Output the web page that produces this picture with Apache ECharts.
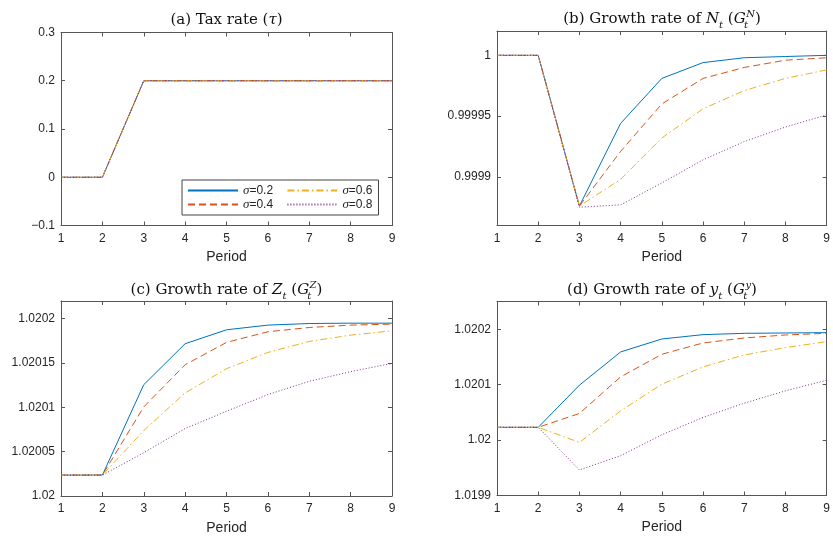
<!DOCTYPE html>
<html>
<head>
<meta charset="utf-8">
<script src="https://cdn.jsdelivr.net/npm/echarts@6/dist/echarts.min.js"></script>
<style>html,body{margin:0;padding:0;background:#fff;}#main{width:833px;height:539px;}</style>
</head>
<body>
<div id="main"></div>
<script>
// ---- data ----
const periods = [1, 2, 3, 4, 5, 6, 7, 8, 9];
const sigmaNames = ['σ=0.2', 'σ=0.4', 'σ=0.6', 'σ=0.8'];

// (a) Tax rate
const tax_s02 = [0, 0, 0.2, 0.2, 0.2, 0.2, 0.2, 0.2, 0.2];
const tax_s04 = [0, 0, 0.2, 0.2, 0.2, 0.2, 0.2, 0.2, 0.2];
const tax_s06 = [0, 0, 0.2, 0.2, 0.2, 0.2, 0.2, 0.2, 0.2];
const tax_s08 = [0, 0, 0.2, 0.2, 0.2, 0.2, 0.2, 0.2, 0.2];

// (b) Growth rate of N
const gN_s02 = [1, 1, 0.999876, 0.999944, 0.999981, 0.999994, 0.999998, 0.999999, 1.0];
const gN_s04 = [1, 1, 0.999876, 0.999921, 0.999960, 0.999981, 0.999990, 0.999996, 0.999998];
const gN_s06 = [1, 1, 0.999876, 0.999898, 0.999932, 0.999956, 0.999971, 0.999981, 0.999988];
const gN_s08 = [1, 1, 0.999875, 0.999877, 0.999895, 0.999914, 0.999929, 0.999941, 0.999951];

// (c) Growth rate of Z
const gZ_s02 = [1.0200236, 1.0200236, 1.0201256, 1.0201718, 1.0201875, 1.0201928, 1.0201946, 1.0201950, 1.0201950];
const gZ_s04 = [1.0200236, 1.0200236, 1.0201005, 1.0201481, 1.0201733, 1.0201853, 1.0201901, 1.0201928, 1.0201939];
const gZ_s06 = [1.0200236, 1.0200236, 1.0200739, 1.0201163, 1.0201436, 1.0201620, 1.0201744, 1.0201815, 1.0201864];
const gZ_s08 = [1.0200236, 1.0200236, 1.0200488, 1.0200761, 1.0200956, 1.0201144, 1.0201294, 1.0201403, 1.0201496];

// (d) Growth rate of y
const gY_s02 = [1.0200230, 1.0200230, 1.0200990, 1.0201590, 1.0201824, 1.0201902, 1.0201926, 1.0201932, 1.0201938];
const gY_s04 = [1.0200230, 1.0200230, 1.0200480, 1.0201140, 1.0201548, 1.0201752, 1.0201842, 1.0201896, 1.0201926];
const gY_s06 = [1.0200230, 1.0200230, 1.0199958, 1.0200528, 1.0201008, 1.0201320, 1.0201536, 1.0201668, 1.0201776];
const gY_s08 = [1.0200230, 1.0200230, 1.0199460, 1.0199718, 1.0200096, 1.0200408, 1.0200666, 1.0200888, 1.0201080];

// axis ranges & tick labels
const yRangeA = [-0.1, 0.3];  const yTicksA = [-0.1, 0, 0.1, 0.2, 0.3];
const yRangeB = [0.99986, 1.00002]; const yTicksB = [0.9999, 0.99995, 1];
const yRangeC = [1.02, 1.02022]; const yTicksC = [1.02, 1.02005, 1.0201, 1.02015, 1.0202];
const yRangeD = [1.0199, 1.02025]; const yTicksD = [1.0199, 1.02, 1.0201, 1.0202];
const xTicks = [1, 2, 3, 4, 5, 6, 7, 8, 9];

// ---- styling ----
const colors = ['#0072BD', '#D95319', '#EDB120', '#7E2F8E'];
const dashes = ['solid', [7, 4], [7, 3, 1.5, 3], [1, 2]];
const axisColor = '#555';
const labelColor = '#262626';
const sans = 'Liberation Sans, Arial, sans-serif';
const serif = 'DejaVu Serif, serif';

const grids = [
  { left: 61, top: 32.5, width: 331, height: 193 },
  { left: 497, top: 31, width: 330, height: 194.5 },
  { left: 61, top: 301, width: 331, height: 195 },
  { left: 497, top: 301.5, width: 330, height: 194 }
];
const yRanges = [yRangeA, yRangeB, yRangeC, yRangeD];
const yTicks = [yTicksA, yTicksB, yTicksC, yTicksD];
const panelData = [
  [tax_s02, tax_s04, tax_s06, tax_s08],
  [gN_s02, gN_s04, gN_s06, gN_s08],
  [gZ_s02, gZ_s04, gZ_s06, gZ_s08],
  [gY_s02, gY_s04, gY_s06, gY_s08]
];

function fmt(v) {
  const s = String(parseFloat(Number(v).toFixed(7)));
  return s.charAt(0) === '-' ? '\u2212' + s.slice(1) : s;
}

const xAxes = [], yAxes = [], series = [];
grids.forEach((g, i) => {
  const base = {
    type: 'value', gridIndex: i, min: 1, max: 9, interval: 1,
    axisLine: { show: true, onZero: false, lineStyle: { color: axisColor, width: 1 } },
    axisTick: { show: true, inside: true, length: 4, lineStyle: { color: axisColor } },
    splitLine: { show: false }
  };
  xAxes.push(Object.assign({}, base, {
    position: 'bottom',
    axisLabel: { show: true, color: labelColor, fontFamily: sans, fontSize: 12, margin: 7, formatter: fmt },
    name: 'Period', nameLocation: 'middle', nameGap: 25,
    nameTextStyle: { color: labelColor, fontFamily: sans, fontSize: 14 }
  }));
  xAxes.push(Object.assign({}, base, { position: 'top', axisLabel: { show: false } }));
  const ybase = {
    type: 'value', gridIndex: i, min: yRanges[i][0], max: yRanges[i][1],
    axisLine: { show: true, onZero: false, lineStyle: { color: axisColor, width: 1 } },
    axisTick: { show: true, inside: true, length: 4, customValues: yTicks[i], lineStyle: { color: axisColor } },
    splitLine: { show: false }
  };
  yAxes.push(Object.assign({}, ybase, {
    position: 'left',
    axisLabel: { show: true, customValues: yTicks[i], color: labelColor, fontFamily: sans, fontSize: 12, margin: 6, formatter: fmt }
  }));
  yAxes.push(Object.assign({}, ybase, { position: 'right', axisLabel: { show: false } }));

  panelData[i].forEach((arr, k) => {
    series.push({
      type: 'line',
      name: sigmaNames[k],
      xAxisIndex: i * 2,
      yAxisIndex: i * 2,
      data: periods.map((p, j) => [p, arr[j]]),
      symbol: 'none',
      showSymbol: false,
      lineStyle: { color: colors[k], width: 1, type: dashes[k] },
      itemStyle: { color: colors[k] },
      emphasis: { disabled: true },
      silent: true
    });
  });
});

const titleRich = {
  r: { fontFamily: serif, fontWeight: 'normal', fontSize: 15, lineHeight: 21, color: '#111' },
  i: { fontFamily: serif, fontWeight: 'normal', fontStyle: 'italic', fontSize: 15, lineHeight: 21, color: '#111' },
  sub: { fontFamily: serif, fontWeight: 'normal', fontStyle: 'italic', fontSize: 10, lineHeight: 10, verticalAlign: 'bottom', color: '#111' },
  subs: { fontFamily: serif, fontWeight: 'normal', fontStyle: 'italic', fontSize: 10, lineHeight: 10, verticalAlign: 'bottom', width: 0.5, color: '#111' },
  sup: { fontFamily: serif, fontWeight: 'normal', fontStyle: 'italic', fontSize: 10, lineHeight: 10, verticalAlign: 'top', color: '#111' }
};
const titleTexts = [
  '{r|(a) Tax rate (}{i|τ}{r|)}',
  '{r|(b) Growth rate of }{i|N}{sub|t}{r| (}{i|G}{subs|t}{sup|N}{r|)}',
  '{r|(c) Growth rate of }{i|Z}{sub|t}{r| (}{i|G}{subs|t}{sup|Z}{r|)}',
  '{r|(d) Growth rate of }{i|y}{sub|t}{r| (}{i|G}{subs|t}{sup|y}{r|)}'
];
const titleY = [10, 9, 280, 280];
const titles = grids.map((g, i) => ({
  text: titleTexts[i],
  left: g.left + g.width / 2,
  top: titleY[i],
  textAlign: 'center',
  padding: 0,
  textStyle: { fontWeight: 'normal', rich: titleRich }
}));

const chart = echarts.init(document.getElementById('main'), null, { renderer: 'canvas' });
chart.setOption({
  animation: false,
  backgroundColor: '#fff',
  title: titles,
  grid: grids,
  xAxis: xAxes,
  yAxis: yAxes,
  legend: {
    left: 182, top: 180,
    orient: 'horizontal',
    width: 200,
    padding: [4, 6, 4, 5],
    itemGap: 1,
    itemWidth: 50,
    itemHeight: 12,
    borderColor: '#444',
    borderWidth: 1,
    backgroundColor: '#fff',
    selectedMode: false,
    itemStyle: { opacity: 0 },
    data: [sigmaNames[0], sigmaNames[2], sigmaNames[1], sigmaNames[3]],
    formatter: function (name) {
      const wide = (name === sigmaNames[0] || name === sigmaNames[1]);
      return '{i|σ}{' + (wide ? 'nw' : 'n') + '|' + name.slice(1) + '}';
    },
    textStyle: {
      rich: {
        i: { fontFamily: 'Liberation Serif, serif', fontStyle: 'italic', fontSize: 13, color: labelColor },
        n: { fontFamily: sans, fontSize: 12, color: labelColor },
        nw: { fontFamily: sans, fontSize: 12, color: labelColor, width: 36, backgroundColor: 'rgba(255,255,255,0)' }
      }
    }
  },
  series: series
});
</script>
</body>
</html>
